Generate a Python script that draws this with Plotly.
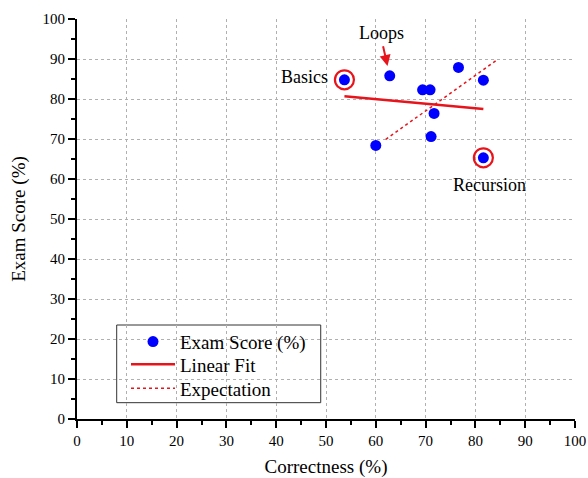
import numpy as np
import plotly.graph_objects as go

# Per-topic results: correctness vs. exam score
correctness = [53.7, 62.8, 69.4, 70.9, 76.6, 81.6, 71.7, 71.1, 60.0, 81.6]
exam_score = [84.8, 85.8, 82.3, 82.3, 87.9, 84.7, 76.4, 70.6, 68.4, 65.3]

# Highlighted topics
highlight_names = ["Basics", "Recursion"]
highlight_x = [53.7, 81.6]
highlight_y = [84.8, 65.3]

# Expected trend (end points)
expect_x = [62.0, 84.5]
expect_y = [69.9, 89.9]

x_ticks = list(range(0, 101, 10))
y_ticks = list(range(0, 101, 10))

FONT = "Liberation Serif"
RED = "#e8141c"

slope, intercept = np.polyfit(correctness, exam_score, 1)
fit_x = [min(correctness), max(correctness)]
fit_y = [slope * v + intercept for v in fit_x]

fig = go.Figure()

fig.add_trace(go.Scatter(
    x=correctness, y=exam_score, mode="markers", name="Exam Score (%)",
    marker=dict(color="#0000ff", size=11, line=dict(width=0)),
    legend="legend",
))
fig.add_trace(go.Scatter(
    x=fit_x, y=fit_y, mode="lines", name="Linear Fit",
    line=dict(color=RED, width=2.5),
    legend="legend2",
))
fig.add_trace(go.Scatter(
    x=expect_x, y=expect_y, mode="lines", name="Expectation",
    line=dict(color=RED, width=1.5, dash="dot"),
    legend="legend3",
))
fig.add_trace(go.Scatter(
    x=highlight_x, y=highlight_y, mode="markers", showlegend=False,
    marker=dict(symbol="circle-open", color=RED, size=19, line=dict(width=2.2)),
))

# Labels
fig.add_annotation(x=highlight_x[0], y=highlight_y[0], text=highlight_names[0],
                   showarrow=False, xanchor="right", xshift=-14, yshift=3,
                   font=dict(family=FONT, size=18, color="black"))
fig.add_annotation(x=highlight_x[1], y=highlight_y[1], text=highlight_names[1],
                   showarrow=False, xanchor="center", yshift=-27, xshift=6,
                   font=dict(family=FONT, size=18, color="black"))
# Arrow pointing to the "Loops" point
fig.add_annotation(x=correctness[1], y=exam_score[1], ax=-7, ay=-31,
                   text="", showarrow=True, arrowhead=2, arrowsize=1.1,
                   arrowwidth=2, arrowcolor=RED, standoff=10)
fig.add_annotation(x=correctness[1], y=exam_score[1], text="Loops",
                   showarrow=False, yshift=43, xshift=-8,
                   font=dict(family=FONT, size=18, color="black"))

# Legend frame
fig.add_shape(type="rect", xref="paper", yref="paper",
              x0=0.0797, x1=0.4894, y0=0.0408, y1=0.235,
              line=dict(color="#333333", width=1), fillcolor="white",
              layer="below")

axis_common = dict(
    showline=True, linecolor="black", linewidth=2,
    ticks="outside", ticklen=7, tickwidth=2, tickcolor="black",
    showgrid=True, gridcolor="#b0b0b0", griddash="dot", gridwidth=1,
    zeroline=False, mirror=False, automargin=False,
    tickfont=dict(family=FONT, size=15, color="black"),
    minor=dict(ticks="outside", ticklen=4, tickwidth=2, tickcolor="black",
               dtick=5, showgrid=False),
)

fig.update_xaxes(range=[0, 100], tickvals=x_ticks, **axis_common,
                 title=dict(text="Correctness (%)", standoff=14,
                            font=dict(family=FONT, size=19, color="black")))
fig.update_yaxes(range=[0, 100], tickvals=y_ticks, **axis_common,
                 title=dict(text="Exam Score (%)", standoff=12,
                            font=dict(family=FONT, size=19, color="black")))

legend_style = dict(xanchor="left", yanchor="middle", bgcolor="rgba(0,0,0,0)",
                    borderwidth=0, itemwidth=44,
                    font=dict(family=FONT, size=19, color="black"))
legend_x = (126 - 77) / 498
fig.update_layout(
    width=588, height=478,
    margin=dict(l=77, r=13, t=19, b=59),
    paper_bgcolor="white", plot_bgcolor="white",
    legend=dict(x=legend_x, y=(419 - 341.7) / 400, **legend_style),
    legend2=dict(x=legend_x, y=(419 - 364.3) / 400, **legend_style),
    legend3=dict(x=legend_x, y=(419 - 388.5) / 400, **legend_style),
    showlegend=True,
)

fig.write_html("out.html")
